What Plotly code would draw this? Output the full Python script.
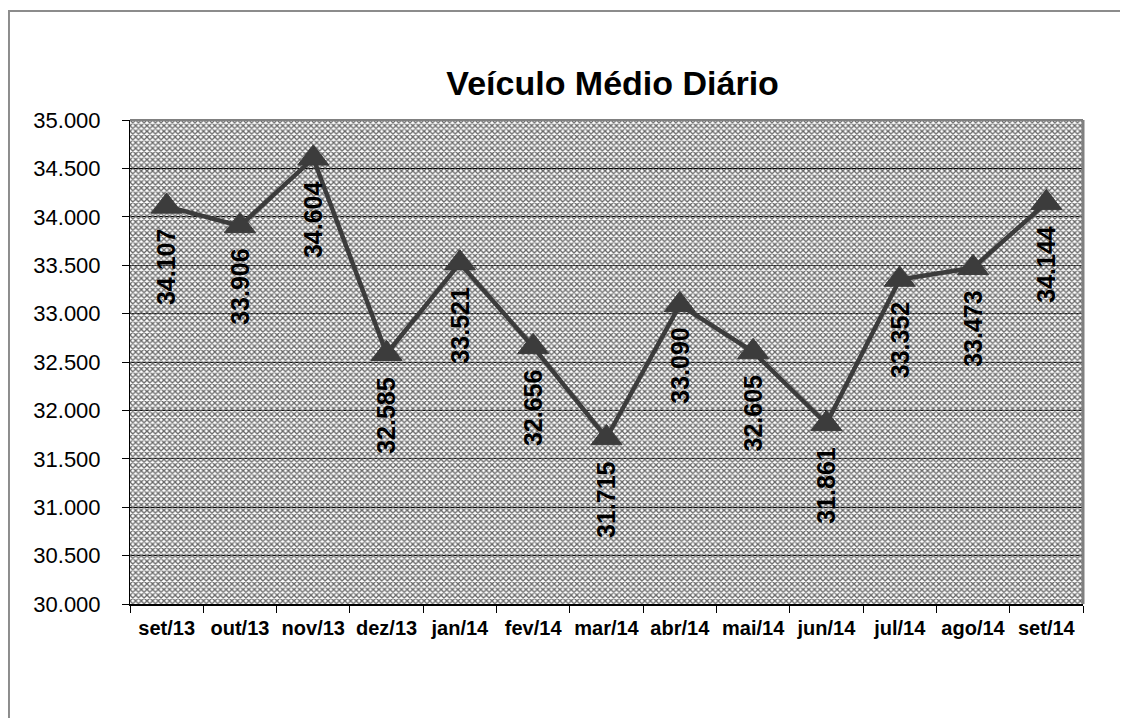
import plotly.graph_objects as go

# data
months = ["set/13", "out/13", "nov/13", "dez/13", "jan/14", "fev/14", "mar/14",
          "abr/14", "mai/14", "jun/14", "jul/14", "ago/14", "set/14"]
vmd = [34107, 33906, 34604, 32585, 33521, 32656, 31715,
       33090, 32605, 31861, 33352, 33473, 34144]
y_ticks = [30000, 30500, 31000, 31500, 32000, 32500, 33000, 33500, 34000, 34500, 35000]

LINE = "#3c3c3c"
FONT = "Liberation Sans, Arial, sans-serif"


def fmt(v):
    return f"{v:,}".replace(",", ".")


fig = go.Figure()

# hatched plot-area background (Excel-style pattern fill) on the hidden base axes
fig.add_trace(
    go.Bar(
        x=[0.5], y=[1], width=[1], base=[0],
        xaxis="x", yaxis="y",
        marker=dict(
            color="rgba(0,0,0,0)",
            line=dict(width=0),
            pattern=dict(shape="x", fgcolor="#666666", bgcolor="rgba(0,0,0,0)",
                         size=4, solidity=0.55, fillmode="replace"),
        ),
        hoverinfo="skip",
        showlegend=False,
    )
)

# the series itself sits on the overlaying (visible) axes, drawn above the hatch
fig.add_trace(
    go.Scatter(
        x=months,
        y=vmd,
        xaxis="x2", yaxis="y2",
        mode="lines+markers",
        line=dict(color=LINE, width=4.5),
        marker=dict(symbol="triangle-up", size=27, color=LINE,
                    line=dict(color=LINE, width=1)),
        showlegend=False,
    )
)

# rotated value labels under each point
for m, v in zip(months, vmd):
    fig.add_annotation(
        x=m, y=v, xref="x2", yref="y2", text=f"<b>{fmt(v)}</b>",
        textangle=-90, showarrow=False,
        xanchor="center", yanchor="top", yshift=-21,
        font=dict(family=FONT, size=25, color="black"),
    )

# plot area top/right border and outer chart frame
fig.add_shape(type="line", xref="paper", yref="paper", x0=0, x1=1, y0=1, y1=1,
              line=dict(color="#808080", width=2))
fig.add_shape(type="line", xref="paper", yref="paper", x0=1, x1=1, y0=0, y1=1,
              line=dict(color="#808080", width=3))
fig.add_shape(type="rect", xref="paper", yref="paper",
              x0=-0.127, x1=1.06, y0=-0.27, y1=1.2252,
              line=dict(color="#8c8c8c", width=2))

fig.update_layout(
    width=1128,
    height=718,
    margin=dict(l=122, r=53, t=112, b=122, autoexpand=False),
    paper_bgcolor="white",
    plot_bgcolor="white",
    separators=",.",
    title=dict(text="<b>Veículo Médio Diário</b>", x=0.536, xanchor="center",
               y=0.895, yanchor="middle",
               font=dict(family=FONT, size=34, color="black")),
    xaxis=dict(range=[0, 1], visible=False, fixedrange=True),
    yaxis=dict(range=[0, 1], visible=False, fixedrange=True),
    xaxis2=dict(
        overlaying="x",
        type="category",
        range=[-0.5, 12.5],
        tickson="boundaries",
        ticks="outside", ticklen=7, tickcolor="black",
        tickangle=0,
        automargin=False,
        showgrid=False,
        showline=True, linecolor="black", linewidth=2,
        tickfont=dict(family=FONT, size=20, color="black", weight="bold"),
        ticklabelstandoff=5,
    ),
    yaxis2=dict(
        overlaying="y",
        range=[30000, 35000],
        tickvals=y_ticks,
        tickformat=",d",
        automargin=False,
        ticks="outside", ticklen=7, tickcolor="black",
        showgrid=True, gridcolor="black", gridwidth=1,
        showline=True, linecolor="black", linewidth=1,
        zeroline=False,
        tickfont=dict(family=FONT, size=22, color="black"),
        ticklabelstandoff=17,
    ),
    bargap=0,
)

fig.write_html("out.html")
